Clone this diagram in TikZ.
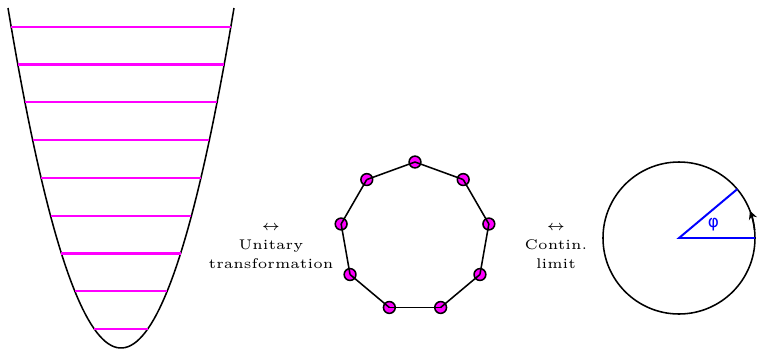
\documentclass[tikz,border=0pt]{standalone}
\usepackage{fontspec}
\newfontfamily\grkfont{DejaVu Sans}
\usetikzlibrary{arrows.meta}
\definecolor{levelmag}{RGB}{255,0,255}
\begin{document}
\begin{tikzpicture}[x=0.356pt,y=0.356pt,
  level/.style={levelmag, line width=0.75pt},
  site/.style={circle, draw, fill=levelmag, inner sep=0pt, minimum size=4.2pt, line width=0.55pt},
  bond/.style={line width=0.55pt},
  lbl/.style={font=\tiny, align=center}]
\useasboundingbox (0,0) rectangle (759,350);

\draw[bond] plot[domain=-113:113, samples=80] ({121+\x},{2+0.026627*\x*\x});
\foreach \n in {0,...,8} {
  \pgfmathsetmacro\h{20.9+37.8*\n}
  \pgfmathsetmacro\w{sqrt((\h-2)/0.026627)}
  \draw[level] ({121-\w},\h) -- ({121+\w},\h);
}

\node[lbl] (unit) at (271,103) {$\leftrightarrow$\\[0.7pt]Unitary\\[0.7pt]transformation};

\foreach \i in {1,...,9}
  \node[site] (s\i) at ({415+75*cos(130-40*\i)},{113+75*sin(130-40*\i)}) {};
\foreach \i [evaluate=\i as \j using {int(mod(\i,9)+1)}] in {1,...,9}
  \draw[bond] (s\i.center) -- (s\j.center);

\node[lbl] (cont) at (556,103) {$\leftrightarrow$\\[0.7pt]Contin.\\[0.7pt]limit};

\coordinate (o) at (679,112);
\coordinate (r) at ([shift={(0:76)}]o);
\coordinate (p) at ([shift={(40:76)}]o);
\draw[bond] (o) circle[radius=76];
\draw[bond, -{Stealth[length=3pt,width=3pt]}] ([shift={(6:76)}]o) arc[start angle=6, end angle=21, radius=76];
\draw[blue, line width=0.7pt] (r) -- (o) -- (p);
\node[blue, font=\fontsize{6}{7}\grkfont] (phi) at ([shift={(21:37)}]o) {φ};
\end{tikzpicture}
\end{document}
